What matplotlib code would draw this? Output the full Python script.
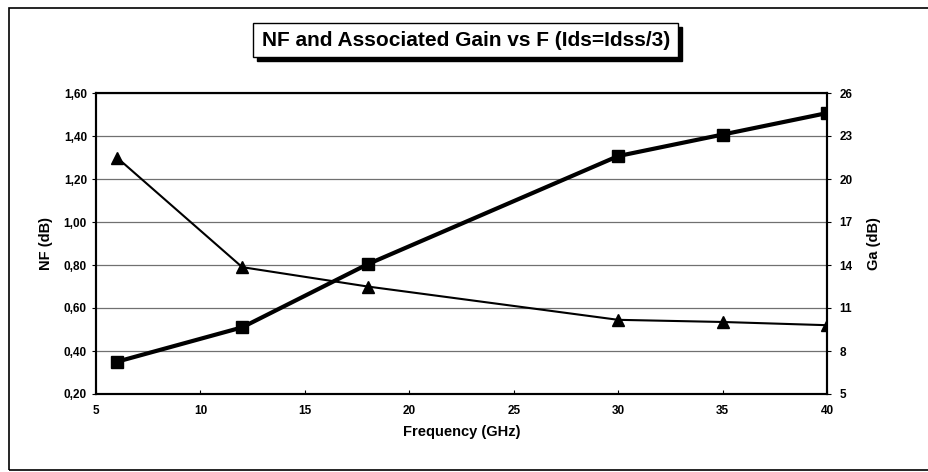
import matplotlib.pyplot as plt
from matplotlib.patches import Rectangle
from matplotlib.ticker import FuncFormatter

plt.rcParams['font.family'] = ['Liberation Sans', 'DejaVu Sans']
plt.rcParams['font.weight'] = 'bold'

freq = [6, 12, 18, 30, 35, 40]
nf = [1.30, 0.79, 0.70, 0.545, 0.535, 0.52]
ga = [7.25, 9.65, 14.05, 21.6, 23.1, 24.6]

nf_ticks = [0.20, 0.40, 0.60, 0.80, 1.00, 1.20, 1.40, 1.60]
ga_ticks = [5, 8, 11, 14, 17, 20, 23, 26]
x_ticks = [5, 10, 15, 20, 25, 30, 35, 40]

W, H = 929, 472
fig = plt.figure(figsize=(W / 100, H / 100), dpi=100)
ax = fig.add_axes([96 / W, 1 - 394 / H, (827 - 96) / W, (394 - 93) / H])

# outer chart frame
fig.patches.append(Rectangle((9 / W, 2 / H), 925 / W, 462 / H,
                             transform=fig.transFigure, fill=False,
                             edgecolor='black', linewidth=1.2))

ax.plot(freq, nf, color='black', linewidth=1.5, marker='^', markersize=8)
ax.set_xlim(5, 40)
ax.set_ylim(0.2, 1.6)
ax.set_xticks(x_ticks)
ax.set_yticks(nf_ticks)
ax.yaxis.set_major_formatter(FuncFormatter(lambda v, p: ('%.2f' % v).replace('.', ',')))
ax.grid(axis='y', color='#707070', linewidth=0.9)
ax.set_axisbelow(True)
ax.tick_params(axis='x', direction='in', length=3, labelsize=8.5, pad=8)
ax.tick_params(axis='y', direction='out', length=3, labelsize=8.5)
ax.set_xlabel('Frequency (GHz)', fontsize=10.5, fontweight='bold', labelpad=6)
ax.set_ylabel('NF (dB)', fontsize=10.5, fontweight='bold', labelpad=8)
for s in ax.spines.values():
    s.set_linewidth(1.5)

ax2 = ax.twinx()
ax2.plot(freq, ga, color='black', linewidth=3, marker='s', markersize=8)
ax2.set_ylim(5, 26)
ax2.set_yticks(ga_ticks)
ax2.tick_params(axis='y', direction='out', length=3, labelsize=8.5, pad=6)
ax2.set_ylabel('Ga (dB)', fontsize=10.5, fontweight='bold', labelpad=10)
for s in ax2.spines.values():
    s.set_linewidth(1.5)

# title box with shadow
fig.patches.append(Rectangle((257 / W, 1 - 61 / H), 425 / W, 34 / H,
                             transform=fig.transFigure, color='black', zorder=1))
fig.patches.append(Rectangle((253 / W, 1 - 57 / H), 425 / W, 34 / H,
                             transform=fig.transFigure, facecolor='white',
                             edgecolor='black', linewidth=1.0, zorder=2))
fig.text(466 / W, 1 - 40 / H, 'NF and Associated Gain vs F (Ids=Idss/3)',
         ha='center', va='center', fontsize=15, fontweight='bold', zorder=3)

fig.savefig('out.png', dpi=100)
